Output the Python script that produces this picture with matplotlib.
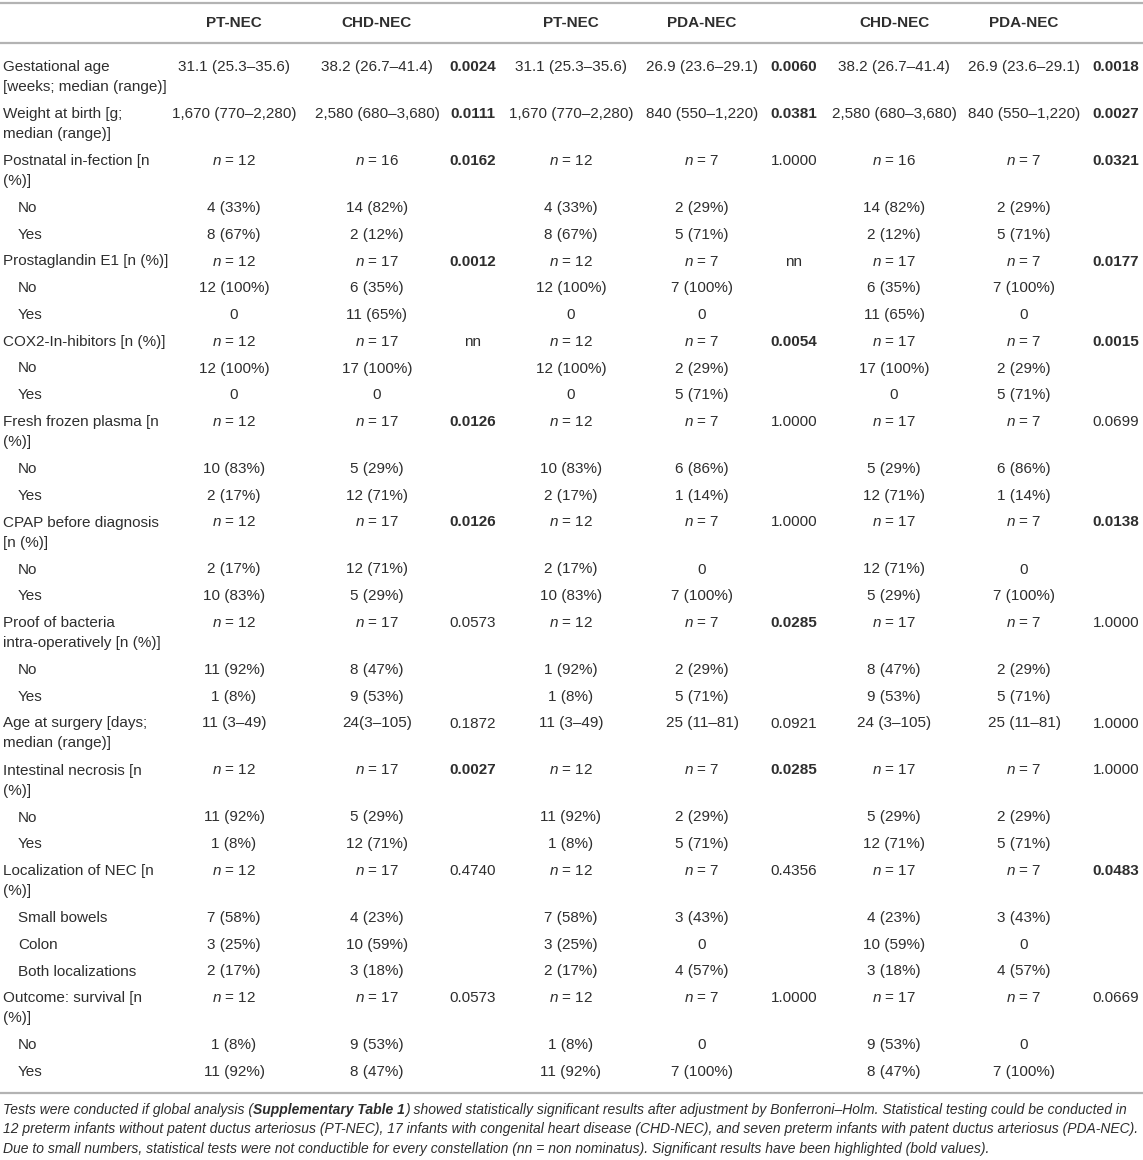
import matplotlib
matplotlib.use("Agg")
import matplotlib.pyplot as plt
from matplotlib import font_manager

# ---------------- data ----------------
headers = ["", "PT-NEC", "CHD-NEC", "", "PT-NEC", "PDA-NEC", "", "CHD-NEC", "PDA-NEC", ""]

row_labels = [
    "Gestational age\n[weeks; median (range)]",
    "Weight at birth [g;\nmedian (range)]",
    "Postnatal in-fection [n\n(%)]",
    "No", "Yes",
    "Prostaglandin E1 [n (%)]",
    "No", "Yes",
    "COX2-In-hibitors [n (%)]",
    "No", "Yes",
    "Fresh frozen plasma [n\n(%)]",
    "No", "Yes",
    "CPAP before diagnosis\n[n (%)]",
    "No", "Yes",
    "Proof of bacteria\nintra-operatively [n (%)]",
    "No", "Yes",
    "Age at surgery [days;\nmedian (range)]",
    "Intestinal necrosis [n\n(%)]",
    "No", "Yes",
    "Localization of NEC [n\n(%)]",
    "Small bowels", "Colon", "Both localizations",
    "Outcome: survival [n\n(%)]",
    "No", "Yes",
]
row_is_sub = [False, False, False, True, True, False, True, True, False, True, True,
              False, True, True, False, True, True, False, True, True, False, False,
              True, True, False, True, True, True, False, True, True]

pt_nec_a = ["31.1 (25.3–35.6)", "1,670 (770–2,280)", "n = 12", "4 (33%)", "8 (67%)",
            "n = 12", "12 (100%)", "0", "n = 12", "12 (100%)", "0",
            "n = 12", "10 (83%)", "2 (17%)", "n = 12", "2 (17%)", "10 (83%)",
            "n = 12", "11 (92%)", "1 (8%)", "11 (3–49)", "n = 12", "11 (92%)", "1 (8%)",
            "n = 12", "7 (58%)", "3 (25%)", "2 (17%)", "n = 12", "1 (8%)", "11 (92%)"]
chd_nec_a = ["38.2 (26.7–41.4)", "2,580 (680–3,680)", "n = 16", "14 (82%)", "2 (12%)",
             "n = 17", "6 (35%)", "11 (65%)", "n = 17", "17 (100%)", "0",
             "n = 17", "5 (29%)", "12 (71%)", "n = 17", "12 (71%)", "5 (29%)",
             "n = 17", "8 (47%)", "9 (53%)", "24(3–105)", "n = 17", "5 (29%)", "12 (71%)",
             "n = 17", "4 (23%)", "10 (59%)", "3 (18%)", "n = 17", "9 (53%)", "8 (47%)"]
p_a = ["0.0024", "0.0111", "0.0162", "", "", "0.0012", "", "", "nn", "", "",
       "0.0126", "", "", "0.0126", "", "", "0.0573", "", "", "0.1872", "0.0027", "", "",
       "0.4740", "", "", "", "0.0573", "", ""]
bold_a = [True, True, True, False, False, True, False, False, False, False, False,
          True, False, False, True, False, False, False, False, False, False, True, False, False,
          False, False, False, False, False, False, False]

pt_nec_b = ["31.1 (25.3–35.6)", "1,670 (770–2,280)", "n = 12", "4 (33%)", "8 (67%)",
            "n = 12", "12 (100%)", "0", "n = 12", "12 (100%)", "0",
            "n = 12", "10 (83%)", "2 (17%)", "n = 12", "2 (17%)", "10 (83%)",
            "n = 12", "1 (92%)", "1 (8%)", "11 (3–49)", "n = 12", "11 (92%)", "1 (8%)",
            "n = 12", "7 (58%)", "3 (25%)", "2 (17%)", "n = 12", "1 (8%)", "11 (92%)"]
pda_nec_b = ["26.9 (23.6–29.1)", "840 (550–1,220)", "n = 7", "2 (29%)", "5 (71%)",
             "n = 7", "7 (100%)", "0", "n = 7", "2 (29%)", "5 (71%)",
             "n = 7", "6 (86%)", "1 (14%)", "n = 7", "0", "7 (100%)",
             "n = 7", "2 (29%)", "5 (71%)", "25 (11–81)", "n = 7", "2 (29%)", "5 (71%)",
             "n = 7", "3 (43%)", "0", "4 (57%)", "n = 7", "0", "7 (100%)"]
p_b = ["0.0060", "0.0381", "1.0000", "", "", "nn", "", "", "0.0054", "", "",
       "1.0000", "", "", "1.0000", "", "", "0.0285", "", "", "0.0921", "0.0285", "", "",
       "0.4356", "", "", "", "1.0000", "", ""]
bold_b = [True, True, False, False, False, False, False, False, True, False, False,
          False, False, False, False, False, False, True, False, False, False, True, False, False,
          False, False, False, False, False, False, False]

chd_nec_c = ["38.2 (26.7–41.4)", "2,580 (680–3,680)", "n = 16", "14 (82%)", "2 (12%)",
             "n = 17", "6 (35%)", "11 (65%)", "n = 17", "17 (100%)", "0",
             "n = 17", "5 (29%)", "12 (71%)", "n = 17", "12 (71%)", "5 (29%)",
             "n = 17", "8 (47%)", "9 (53%)", "24 (3–105)", "n = 17", "5 (29%)", "12 (71%)",
             "n = 17", "4 (23%)", "10 (59%)", "3 (18%)", "n = 17", "9 (53%)", "8 (47%)"]
pda_nec_c = ["26.9 (23.6–29.1)", "840 (550–1,220)", "n = 7", "2 (29%)", "5 (71%)",
             "n = 7", "7 (100%)", "0", "n = 7", "2 (29%)", "5 (71%)",
             "n = 7", "6 (86%)", "1 (14%)", "n = 7", "0", "7 (100%)",
             "n = 7", "2 (29%)", "5 (71%)", "25 (11–81)", "n = 7", "2 (29%)", "5 (71%)",
             "n = 7", "3 (43%)", "0", "4 (57%)", "n = 7", "0", "7 (100%)"]
p_c = ["0.0018", "0.0027", "0.0321", "", "", "0.0177", "", "", "0.0015", "", "",
       "0.0699", "", "", "0.0138", "", "", "1.0000", "", "", "1.0000", "1.0000", "", "",
       "0.0483", "", "", "", "0.0669", "", ""]
bold_c = [True, True, True, False, False, True, False, False, True, False, False,
          False, False, False, True, False, False, False, False, False, False, False, False, False,
          True, False, False, False, False, False, False]

footnote_lines = [
    [("Tests were conducted if global analysis (", "normal"),
     ("Supplementary Table 1", "bold"),
     (") showed statistically significant results after adjustment by Bonferroni–Holm. "
      "Statistical testing could be conducted in", "normal")],
    [("12 preterm infants without patent ductus arteriosus (PT-NEC), 17 infants with congenital "
      "heart disease (CHD-NEC), and seven preterm infants with patent ductus arteriosus (PDA-NEC).", "normal")],
    [("Due to small numbers, statistical tests were not conductible for every constellation "
      "(nn = non nominatus). Significant results have been highlighted (bold values).", "normal")],
]

# ---------------- layout / style ----------------
W, H = 1143, 1160
DPI = 100
names = {f.name for f in font_manager.fontManager.ttflist}
BODY = "Liberation Sans" if "Liberation Sans" in names else "DejaVu Sans"
NOTE = "Liberation Sans Narrow" if "Liberation Sans Narrow" in names else BODY

plt.rcParams["font.family"] = [BODY, "DejaVu Sans"]
plt.rcParams["mathtext.fontset"] = "custom"
plt.rcParams["mathtext.rm"] = BODY
plt.rcParams["mathtext.it"] = BODY + ":italic"
plt.rcParams["mathtext.bf"] = BODY + ":bold"

TXT = "#2e2e2e"
RULE = "#b3b3b3"
FS = 11.0
col_x = [3, 234, 377, 473, 571, 702, 794, 894, 1024, 1116]
sub_indent = 18
first_y = 67
R1 = 26.75      # single-line row height
R2 = 47.0       # two-line row height
LINE = 20.0     # line spacing inside a cell

fig = plt.figure(figsize=(W / DPI, H / DPI), dpi=DPI)
ax = fig.add_axes([0, 0, 1, 1])
ax.set_xlim(0, W)
ax.set_ylim(H, 0)
ax.axis("off")

# rules
for yy in (3, 43, 1093):
    ax.plot([0, W], [yy, yy], color=RULE, lw=1.6, solid_capstyle="butt")

# header
for x, h in zip(col_x, headers):
    if h:
        ax.text(x, 23, h, ha="center", va="center", fontsize=FS, fontweight="bold", color=TXT)


def fmt(s):
    if s.startswith("n = "):
        return "$n$ = " + s[4:]
    return s


cols = [pt_nec_a, chd_nec_a, p_a, pt_nec_b, pda_nec_b, p_b, chd_nec_c, pda_nec_c, p_c]
bolds = {2: bold_a, 5: bold_b, 8: bold_c}

y = first_y
for i, lab in enumerate(row_labels):
    lines = lab.split("\n")
    lx = sub_indent if row_is_sub[i] else col_x[0]
    for k, ln in enumerate(lines):
        ax.text(lx, y + k * LINE, ln, ha="left", va="center", fontsize=FS, color=TXT)
    for c, col in enumerate(cols):
        s = col[i]
        if not s:
            continue
        bw = "normal"
        if c in bolds and bolds[c][i]:
            bw = "bold"
        ax.text(col_x[c + 1], y, fmt(s), ha="center", va="center", fontsize=FS,
                fontweight=bw, color=TXT)
    y += R2 if len(lines) > 1 else R1

# footnote
fig.canvas.draw()
renderer = fig.canvas.get_renderer()

def line_width(parts, fs):
    total = 0
    for txt, wt in parts:
        t = ax.text(0, 0, txt, fontsize=fs, family=NOTE, style="italic", fontweight=wt)
        total += t.get_window_extent(renderer).width
        t.remove()
    return total

target = 1136.0
w2 = line_width(footnote_lines[1], 10.0)
note_fs = 10.0 * target / w2
note_y = [1110, 1129.5, 1149]
for parts, yy in zip(footnote_lines, note_y):
    x = 3.0
    for txt, wt in parts:
        t = ax.text(x, yy, txt, ha="left", va="center", fontsize=note_fs, family=NOTE,
                    style="italic", fontweight=wt, color=TXT)
        x += t.get_window_extent(renderer).width

fig.savefig("out.png", dpi=DPI)
